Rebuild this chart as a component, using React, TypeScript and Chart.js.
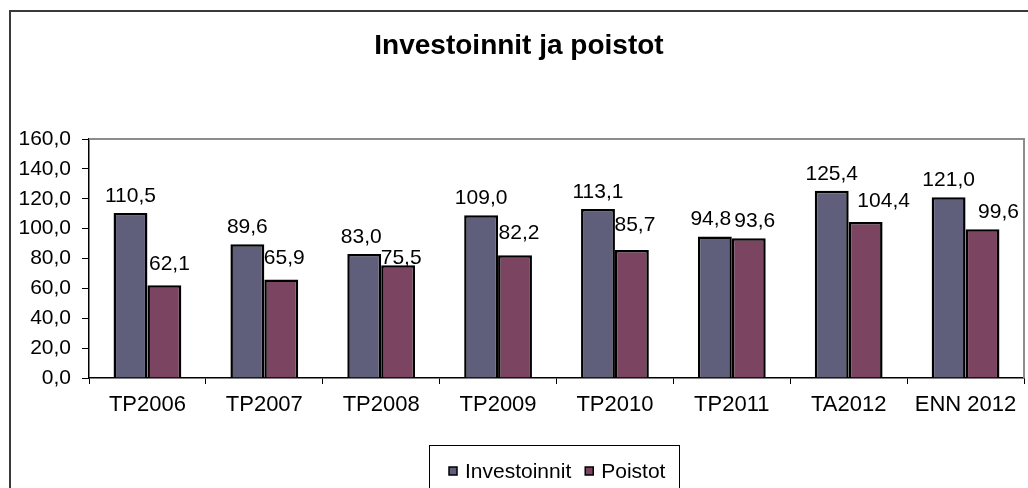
import React, { useEffect, useRef } from "react";
import { Chart, registerables } from "chart.js";

Chart.register(...registerables);

const categories = ["TP2006", "TP2007", "TP2008", "TP2009", "TP2010", "TP2011", "TA2012", "ENN 2012"];
const investoinnit = [110.5, 89.6, 83.0, 109.0, 113.1, 94.8, 125.4, 121.0];
const poistot = [62.1, 65.9, 75.5, 82.2, 85.7, 93.6, 104.4, 99.6];
const seriesNames = ["Investoinnit", "Poistot"];
const seriesColors = ["#5f5f7b", "#7b4561"];
const titleText = "Investoinnit ja poistot";

const FONT = "'Liberation Sans', Arial, sans-serif";
const fmt = (v: number) => v.toFixed(1).replace(".", ",");

const decorPlugin = {
  id: "decor",
  beforeDraw(chart: any) {
    const ctx = chart.ctx;
    ctx.save();
    ctx.fillStyle = "#fff";
    ctx.fillRect(0, 0, chart.width, chart.height);
    ctx.strokeStyle = "#3a3a3a";
    ctx.lineWidth = 2;
    ctx.strokeRect(10, 11, chart.width + 20, chart.height + 20);
    ctx.fillStyle = "#000";
    ctx.font = `bold 28px ${FONT}`;
    ctx.textAlign = "center";
    ctx.textBaseline = "alphabetic";
    ctx.fillText(titleText, 519, 54);
    ctx.restore();
  },
  beforeDatasetsDraw(chart: any) {
    const ctx = chart.ctx;
    const a = chart.chartArea;
    ctx.save();
    ctx.strokeStyle = "#8c8c8c";
    ctx.lineWidth = 2;
    ctx.beginPath();
    ctx.moveTo(a.left, a.top);
    ctx.lineTo(a.right, a.top);
    ctx.lineTo(a.right, a.bottom);
    ctx.stroke();
    ctx.restore();
  },
  afterDatasetsDraw(chart: any, _args: any, opts: any) {
    const ctx = chart.ctx;
    ctx.save();
    ctx.fillStyle = "#000";
    ctx.font = `21px ${FONT}`;
    ctx.textAlign = "center";
    ctx.textBaseline = "alphabetic";
    chart.data.datasets.forEach((ds: any, i: number) => {
      const meta = chart.getDatasetMeta(i);
      const dx = opts.dx[i] || [];
      const dy = opts.dy[i] || [];
      meta.data.forEach((bar: any, j: number) => {
        ctx.fillText(fmt(ds.data[j]), bar.x + (dx[j] || 0), bar.y - 11 + (dy[j] || 0));
      });
    });
    ctx.restore();
  },
  afterDraw(chart: any) {
    const ctx = chart.ctx;
    ctx.save();
    ctx.strokeStyle = "#000";
    ctx.lineWidth = 1;
    ctx.strokeRect(429.5, 445.5, 250, 60);
    ctx.font = `21px ${FONT}`;
    ctx.textBaseline = "middle";
    ctx.textAlign = "left";
    let x = 449;
    const y = 471;
    chart.data.datasets.forEach((ds: any) => {
      ctx.fillStyle = ds.backgroundColor;
      ctx.fillRect(x, y - 4, 8, 8);
      ctx.strokeStyle = "#000";
      ctx.lineWidth = 1.5;
      ctx.strokeRect(x, y - 4, 8, 8);
      ctx.fillStyle = "#000";
      ctx.fillText(ds.label, x + 16, y + 1);
      x += 16 + ctx.measureText(ds.label).width + 14;
    });
    ctx.restore();
  },
};

export default function App() {
  const ref = useRef<HTMLCanvasElement>(null);
  useEffect(() => {
    document.body.style.margin = "0";
    const canvas = ref.current!;
    const chart = new Chart(canvas, {
      type: "bar",
      data: {
        labels: categories,
        datasets: [investoinnit, poistot].map((d, i) => ({
          label: seriesNames[i],
          data: d,
          backgroundColor: seriesColors[i],
          borderColor: "#000",
          borderWidth: 2.5,
          categoryPercentage: 0.58,
          barPercentage: 1.0,
        })),
      },
      options: {
        responsive: false,
        animation: false,
        layout: { padding: { top: 139, right: 4, left: 0, bottom: 0 } },
        plugins: {
          legend: { display: false },
          title: { display: false },
          tooltip: { enabled: false },
          decor: {
            dx: [[0, 0, -3, 0, 0, -4, 0, 0], [5, 3, 3, 4, 3, 6, 18, 16]],
            dy: [[], [-4, -5, 10, -5, -8, 0, -4, 0]],
          },
        } as any,
        scales: {
          x: {
            grid: { display: true, drawOnChartArea: false, drawTicks: true, tickLength: 6, color: "#000", offset: true },
            border: { display: true, color: "#000", width: 1.5 },
            ticks: { color: "#000", font: { family: FONT, size: 22 }, padding: 8, maxRotation: 0, autoSkip: false },
            afterFit: (s: any) => { s.height = 110; },
          },
          y: {
            min: 0,
            max: 160,
            grid: { display: true, drawOnChartArea: false, drawTicks: true, tickLength: 7, color: "#000" },
            border: { display: true, color: "#000", width: 1.5 },
            ticks: {
              stepSize: 20,
              color: "#000",
              font: { family: FONT, size: 21 },
              padding: 11,
              callback: (v: any) => fmt(Number(v)),
            },
            afterFit: (s: any) => { s.width = 89; },
          },
        },
      },
      plugins: [decorPlugin],
    });
    return () => chart.destroy();
  }, []);
  return (
    <div style={{ width: 1028, height: 488 }}>
      <canvas ref={ref} width={1028} height={488} style={{ display: "block" }} />
    </div>
  );
}
